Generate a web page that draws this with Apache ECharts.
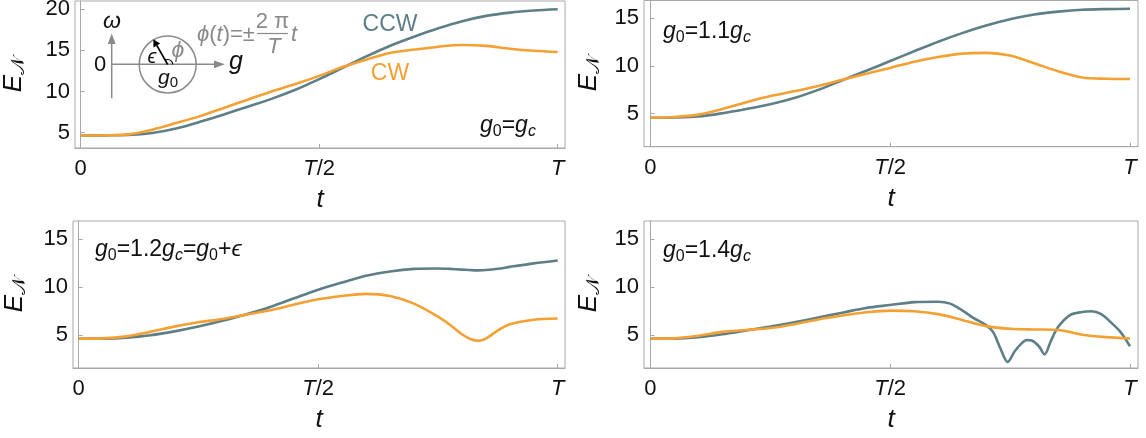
<!DOCTYPE html>
<html>
<head>
<meta charset="utf-8">
<script src="https://cdn.jsdelivr.net/npm/echarts@6/dist/echarts.min.js"></script>
<style>
  html, body { margin: 0; padding: 0; background: #fff; }
  #chart { width: 1146px; height: 438px; }
</style>
</head>
<body>
<div id="chart"></div>
<script>
// t in units of the period T
const tGrid = [0, 0.05, 0.1, 0.15, 0.2, 0.25, 0.3, 0.35, 0.4, 0.45, 0.5,
  0.55, 0.6, 0.65, 0.7, 0.75, 0.8, 0.85, 0.9, 0.95, 1];

// g0 = gc
const p1Ccw = [4.65, 4.66, 4.7, 4.95, 5.5, 6.3, 7.2, 8.15, 9.1, 10.2, 11.5,
  12.9, 14.3, 15.6, 16.7, 17.7, 18.55, 19.2, 19.6, 19.85, 20.0];
const p1Cw = [4.65, 4.67, 4.78, 5.35, 6.15, 7.0, 8.0, 9.0, 10.0, 10.9, 11.9,
  13.0, 13.9, 14.7, 15.1, 15.45, 15.65, 15.55, 15.2, 14.95, 14.8];

// g0 = 1.1 gc
const p2Ccw = [4.58, 4.6, 4.7, 5.05, 5.5, 6.0, 6.65, 7.5, 8.5, 9.5, 10.52,
  11.55, 12.55, 13.45, 14.25, 14.9, 15.4, 15.7, 15.9, 15.97, 16.0];
const p2Cw = [4.58, 4.65, 4.9, 5.5, 6.2, 6.85, 7.35, 7.9, 8.55, 9.2, 9.8,
  10.45, 10.95, 11.3, 11.38, 11.1, 10.3, 9.45, 8.8, 8.67, 8.64];

// g0 = 1.2 gc (denser samples round the dip)
const t3 = [0, 0.05, 0.1, 0.15, 0.2, 0.25, 0.3, 0.35, 0.4, 0.45, 0.5, 0.55,
  0.6, 0.65, 0.7, 0.75, 0.775, 0.8, 0.82, 0.835, 0.85, 0.875, 0.9, 0.95, 1];
const p3Ccw = [4.64, 4.65, 4.75, 5.0, 5.4, 5.9, 6.5, 7.2, 7.95, 8.85, 9.75,
  10.5, 11.2, 11.65, 11.92, 11.97, 11.92, 11.85, 11.79, 11.77, 11.8, 11.93,
  12.13, 12.5, 12.8];
const p3Cw = [4.64, 4.67, 4.88, 5.35, 5.9, 6.35, 6.7, 7.15, 7.6, 8.2, 8.75,
  9.1, 9.32, 9.1, 8.3, 6.95, 6.1, 5.1, 4.55, 4.43, 4.65, 5.5, 6.15, 6.62, 6.74];

// g0 = 1.4 gc (CCW has two cusps)
const t4 = [0, 0.05, 0.1, 0.15, 0.2, 0.25, 0.3, 0.35, 0.4, 0.45, 0.5, 0.55,
  0.6, 0.625, 0.65, 0.675, 0.7, 0.715, 0.73, 0.745, 0.76, 0.775, 0.785, 0.795,
  0.81, 0.822, 0.835, 0.85, 0.875, 0.9, 0.92, 0.94, 0.96, 0.98, 1];
const p4Ccw = [4.64, 4.65, 4.8, 5.1, 5.5, 5.9, 6.35, 6.85, 7.35, 7.85, 8.15,
  8.45, 8.5, 8.3, 7.6, 6.75, 6.05, 5.3, 3.6, 2.2, 3.35, 4.2, 4.5, 4.45, 3.85,
  3.0, 4.4, 5.85, 7.1, 7.42, 7.5, 7.2, 6.35, 5.35, 3.85];
const p4Cw = [4.64, 4.67, 4.95, 5.35, 5.55, 5.75, 6.15, 6.65, 7.05, 7.4, 7.57,
  7.5, 7.2, 6.6, 5.95, 5.67, 5.6, 5.55, 5.05, 4.8, 4.66];

const xTicks = [0, 0.5, 1];
const xTickText = { 0: '0', 0.5: '{i|T}/2', 1: '{i|T}' };

const FONT = '"Liberation Sans", Arial, "DejaVu Sans", sans-serif';
const INK = '#111';
const FRAME = '#a8a8a8';
const CCW_COLOR = '#5e7f87';
const CW_COLOR = '#f5a033';
const GREY = '#8a8a8a';

function pairs(t, v) {
  return t.map((x, i) => [x, v[i]]);
}

const panels = [
  { grid: { left: 75, top: 1, width: 490, height: 147 }, x: [-0.012, 1.0153], y: [3.12, 21.01],
    yTicks: [5, 10, 15, 20], nameGap: 47, ccw: pairs(tGrid, p1Ccw), cw: pairs(tGrid, p1Cw) },
  { grid: { left: 644, top: 0.5, width: 494, height: 146.2 }, x: [-0.0134, 1.0167], y: [1.54, 16.87],
    yTicks: [5, 10, 15], nameGap: 41, ccw: pairs(tGrid, p2Ccw), cw: pairs(tGrid, p2Cw) },
  { grid: { left: 73, top: 221, width: 492, height: 147 }, x: [-0.0117, 1.0152], y: [1.58, 16.92],
    yTicks: [5, 10, 15], nameGap: 44, ccw: pairs(t3, p3Ccw), cw: pairs(t3, p3Cw) },
  { grid: { left: 644, top: 221, width: 494, height: 147 }, x: [-0.0134, 1.0167], y: [1.58, 16.92],
    yTicks: [5, 10, 15], nameGap: 41, ccw: pairs(t4, p4Ccw), cw: pairs(tGrid, p4Cw) }
];

const grids = [], xAxes = [], yAxes = [], series = [];
panels.forEach((p, k) => {
  grids.push(Object.assign({ show: true, borderColor: FRAME, borderWidth: 1, outerBoundsMode: 'none' }, p.grid));
  xAxes.push({
    type: 'value', gridIndex: k, min: p.x[0], max: p.x[1],
    splitLine: { show: false },
    axisLine: { show: true, lineStyle: { color: FRAME } },
    axisTick: { show: true, inside: true, length: 4, customValues: xTicks, lineStyle: { color: FRAME } },
    axisLabel: {
      customValues: xTicks, margin: 10, fontSize: 22, fontFamily: FONT, color: INK,
      formatter: v => xTickText[v],
      rich: { i: { fontStyle: 'italic', fontSize: 22, fontFamily: FONT, color: INK } }
    },
    name: 't', nameLocation: 'middle', nameGap: 39,
    nameTextStyle: { fontStyle: 'italic', fontSize: 26, fontFamily: FONT, color: INK }
  });
  yAxes.push({
    type: 'value', gridIndex: k, min: p.y[0], max: p.y[1],
    splitLine: { show: false },
    axisLine: { show: true, lineStyle: { color: FRAME } },
    axisTick: { show: true, inside: true, length: 4, customValues: p.yTicks, lineStyle: { color: FRAME } },
    axisLabel: { customValues: p.yTicks, margin: 5, fontSize: 22, fontFamily: FONT, color: INK },
    name: '{e|E}{s|𝒩}', nameLocation: 'middle', nameRotate: 90, nameGap: p.nameGap,
    nameTextStyle: {
      rich: {
        e: { fontStyle: 'italic', fontSize: 26, lineHeight: 28, fontFamily: FONT, color: INK },
        s: { fontSize: 19, lineHeight: 16, verticalAlign: 'bottom', fontFamily: FONT, color: INK }
      }
    }
  });
  series.push({
    name: 'CCW', type: 'line', xAxisIndex: k, yAxisIndex: k, data: p.ccw,
    symbol: 'none', smooth: 0.3, lineStyle: { color: CCW_COLOR, width: 2.6 }
  });
  series.push({
    name: 'CW', type: 'line', xAxisIndex: k, yAxisIndex: k, data: p.cw,
    symbol: 'none', smooth: 0.3, lineStyle: { color: CW_COLOR, width: 2.6 }
  });
});

// text helpers for the graphic layer
function mathRich(size, color) {
  const sub = Math.round(size * 0.7);
  return {
    i: { fontStyle: 'italic', fontSize: size, lineHeight: size + 4, fontFamily: FONT, fill: color },
    n: { fontSize: size, lineHeight: size + 4, fontFamily: FONT, fill: color },
    s: { fontSize: sub, lineHeight: sub, verticalAlign: 'bottom', fontFamily: FONT, fill: color },
    si: { fontStyle: 'italic', fontSize: sub, lineHeight: sub, verticalAlign: 'bottom', fontFamily: FONT, fill: color }
  };
}
function label(x, y, text, size, color, align, italic) {
  return {
    type: 'text', x: x, y: y, silent: true,
    style: {
      text: text, fontSize: size, fontFamily: FONT, fontStyle: italic ? 'italic' : 'normal',
      fill: color, align: align || 'center', verticalAlign: 'middle',
      rich: mathRich(size, color)
    }
  };
}

// inset sketch: circle of radius eps round g0 in the (g, omega) plane
const cx = 167.7, cy = 64.5, rad = 28.5;
const tip = [153.3, 39.3];
const dx = (tip[0] - cx) / rad, dy = (tip[1] - cy) / rad;
const base = [tip[0] - 7 * dx, tip[1] - 7 * dy];
const inset = [
  { type: 'line', shape: { x1: 111.7, y1: 98.3, x2: 111.7, y2: 42 }, style: { stroke: GREY, lineWidth: 1.5 } },
  { type: 'polygon', shape: { points: [[111.7, 33.5], [107.8, 44], [115.6, 44]] }, style: { fill: GREY } },
  { type: 'line', shape: { x1: 111.7, y1: 64.3, x2: 215, y2: 64.3 }, style: { stroke: GREY, lineWidth: 1.5 } },
  { type: 'polygon', shape: { points: [[225, 64.3], [214, 60.4], [214, 68.2]] }, style: { fill: GREY } },
  { type: 'circle', shape: { cx: cx, cy: cy, r: rad }, style: { fill: 'none', stroke: GREY, lineWidth: 1.5 } },
  { type: 'line', shape: { x1: cx, y1: cy, x2: base[0], y2: base[1] }, style: { stroke: '#000', lineWidth: 1.6 } },
  { type: 'polygon', shape: { points: [tip, [base[0] - 3.8 * dy, base[1] + 3.8 * dx], [base[0] + 3.8 * dy, base[1] - 3.8 * dx]] },
    style: { fill: '#000' } },
  { type: 'arc', shape: { cx: cx, cy: cy, r: 5, startAngle: 0, endAngle: Math.atan2(dy, dx), clockwise: false },
    style: { stroke: '#000', lineWidth: 1.1, fill: 'none' } },
  label(112, 22, 'ω', 23, INK, 'center', true),
  label(100, 65, '0', 22, INK),
  label(236, 62, 'g', 25, INK, 'center', true),
  label(152, 57, 'ϵ', 20, INK, 'center', true),
  label(178, 51, 'ϕ', 23, GREY, 'center', true),
  label(168, 78, '{i|g}{s|0}', 21, INK),
  label(197, 35, '{i|ϕ}{n|(}{i|t}{n|)=±}', 22, GREY, 'left'),
  label(272.5, 22, '2 π', 22, GREY),
  { type: 'line', shape: { x1: 257, y1: 33.5, x2: 288, y2: 33.5 }, style: { stroke: GREY, lineWidth: 1.2 } },
  label(274, 47, 'T', 22, GREY, 'center', true),
  label(294, 35, 't', 22, GREY, 'center', true)
];

const notes = [
  label(390, 25, 'CCW', 23, CCW_COLOR),
  label(390, 74, 'CW', 23, CW_COLOR),
  label(480, 126, '{i|g}{s|0}{n|=}{i|g}{si|c}', 23, INK, 'left'),
  label(663, 32, '{i|g}{s|0}{n|=1.1}{i|g}{si|c}', 23, INK, 'left'),
  label(95, 250, '{i|g}{s|0}{n|=1.2}{i|g}{si|c}{n|=}{i|g}{s|0}{n|+}{i|ϵ}', 23, INK, 'left'),
  label(663, 251, '{i|g}{s|0}{n|=1.4}{i|g}{si|c}', 23, INK, 'left')
];

const chart = echarts.init(document.getElementById('chart'), null, { renderer: 'canvas' });
chart.setOption({
  backgroundColor: '#fff',
  animation: false,
  grid: grids,
  xAxis: xAxes,
  yAxis: yAxes,
  series: series,
  graphic: { elements: inset.concat(notes) }
});
</script>
</body>
</html>
